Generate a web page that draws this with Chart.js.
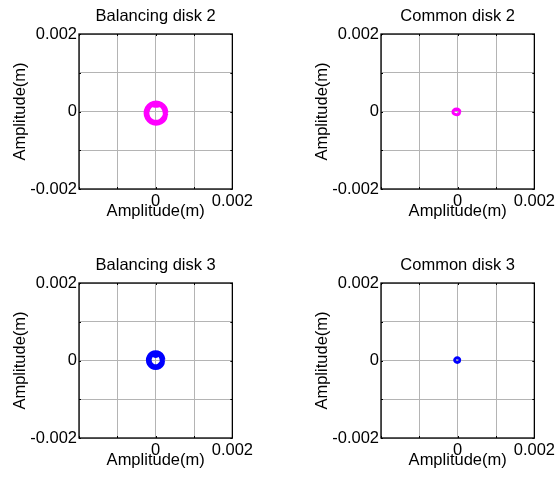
<!DOCTYPE html>
<html>
<head>
<meta charset="utf-8">
<title>Disk orbits</title>
<script src="https://cdn.jsdelivr.net/npm/chart.js@4.4.1/dist/chart.umd.min.js"></script>
<style>
    body { margin: 0; background: #fff; }
    #wrap { position: relative; width: 558px; height: 477px; overflow: hidden; }
    canvas { position: absolute; }
</style>
</head>
<body>
<div id="wrap">
    <canvas id="bal2" width="256" height="230" style="left:0;top:0"></canvas>
    <canvas id="com2" width="256" height="230" style="left:302px;top:0"></canvas>
    <canvas id="bal3" width="256" height="230" style="left:0;top:249px"></canvas>
    <canvas id="com3" width="256" height="230" style="left:302px;top:249px"></canvas>
</div>
<script>
// Axis range and labelled ticks (metres)
const axisMin = -0.002;
const axisMax = 0.002;
const gridStep = 0.001;
const xTickValues = [0, 0.002];
const xTickText = ["0", "0.002"];
const yTickValues = [-0.002, 0, 0.002];
const yTickText = ["-0.002", "0", "0.002"];

// Orbit of balancing disk 2
const bal2X = [0.00027, 0.000235, 0.00014, 0.00001, -0.00012, -0.000215, -0.00025, -0.000215, -0.00012, 0.00001, 0.00014, 0.000235,
               0.00025, 0.000218, 0.00013, 0.00001, -0.00011, -0.000198, -0.00023, -0.000198, -0.00011, 0.00001, 0.00013, 0.000218, 0.00027];
const bal2Y = [-0.00004, 0.00009, 0.000185, 0.00022, 0.000185, 0.00009, -0.00004, -0.00017, -0.000265, -0.0003, -0.000265, -0.00017,
               -0.00004, 0.00008, 0.00017, 0.00016, 0.00017, 0.00008, -0.00004, -0.00016, -0.000248, -0.00028, -0.000248, -0.00016, -0.00004];

// Orbit of common disk 2
const com2X = [0.00007, 0.00004, -0.00003, -0.0001, -0.00013, -0.0001, -0.00003, 0.00004,
               0.00005, 0.000028, -0.00003, -0.000092, -0.000115, -0.000092, -0.00003, 0.000028, 0.00007];
const com2Y = [-0.00001, 0.000045, 0.000068, 0.000045, -0.00001, -0.000065, -0.000088, -0.000065,
               -0.00001, 0.000038, 0.000045, 0.000038, -0.00001, -0.000058, -0.000078, -0.000058, -0.00001];

// Orbit of balancing disk 3
const bal3X = [0.00019, 0.000165, 0.000095, 0, -0.000095, -0.000165, -0.00019, -0.000165, -0.000095, 0, 0.000095, 0.000165,
               0.00017, 0.000147, 0.000085, 0, -0.000085, -0.000147, -0.00017, -0.000147, -0.000085, 0, 0.000085, 0.000147, 0.00019];
const bal3Y = [0.00001, 0.000105, 0.000175, 0.0002, 0.000175, 0.000105, 0.00001, -0.000085, -0.000155, -0.00018, -0.000155, -0.000085,
               0.00001, 0.000095, 0.000157, 0.00013, 0.000157, 0.000095, 0.00001, -0.000075, -0.000137, -0.00016, -0.000137, -0.000075, 0.00001];

// Orbit of common disk 3
const com3X = [0.000065, 0.000043, -0.00001, -0.000063, -0.000085, -0.000063, -0.00001, 0.000043,
               0.000055, 0.000035, -0.00001, -0.000055, -0.000075, -0.000055, -0.00001, 0.000035, 0.000065];
const com3Y = [0.00001, 0.000056, 0.000075, 0.000056, 0.00001, -0.000036, -0.000055, -0.000036,
               0.00001, 0.000048, 0.000065, 0.000048, 0.00001, -0.000028, -0.000045, -0.000028, 0.00001];

const FONT = { family: "'Liberation Sans', Arial, sans-serif", size: 16.5 };

function tickLabel(values, text) {
    return (v) => {
        const i = values.findIndex((t) => Math.abs(t - v) < 1e-9);
        return i < 0 ? "" : text[i];
    };
}

// Black frame round the plot area with short inward ticks
const framePlugin = {
    id: "frame",
    afterDraw(chart) {
        const { ctx, chartArea: a, scales } = chart;
        ctx.save();
        ctx.strokeStyle = "#000";
        ctx.lineWidth = 1.3;
        ctx.strokeRect(a.left, a.top, a.right - a.left, a.bottom - a.top);
        ctx.lineWidth = 1;
        ctx.beginPath();
        scales.x.ticks.forEach((t) => {
            const px = Math.round(scales.x.getPixelForValue(t.value)) + 0.5;
            ctx.moveTo(px, a.bottom); ctx.lineTo(px, a.bottom - 2);
            ctx.moveTo(px, a.top); ctx.lineTo(px, a.top + 2);
        });
        scales.y.ticks.forEach((t) => {
            const py = Math.round(scales.y.getPixelForValue(t.value)) + 0.5;
            ctx.moveTo(a.left, py); ctx.lineTo(a.left + 2, py);
            ctx.moveTo(a.right, py); ctx.lineTo(a.right - 2, py);
        });
        ctx.stroke();
        ctx.restore();
    },
};

function makeOrbit(id, title, xs, ys, color, width) {
    const points = xs.map((x, i) => ({ x: x, y: ys[i] }));
    new Chart(document.getElementById(id), {
        type: "scatter",
        data: {
            datasets: [{
                data: points,
                showLine: true,
                borderColor: color,
                borderWidth: width,
                pointRadius: 0,
                tension: 0.4,
                fill: false,
            }],
        },
        options: {
            responsive: false,
            animation: false,
            devicePixelRatio: 1,
            layout: { padding: { left: 0, right: 22, top: 0, bottom: 0 } },
            plugins: {
                legend: { display: false },
                tooltip: { enabled: false },
                title: {
                    display: true,
                    fullSize: false, // centre over the plot box only
                    text: title,
                    color: "#000",
                    font: { ...FONT, weight: "normal", lineHeight: 1.2 },
                    padding: { top: 7, bottom: 7.2 },
                },
            },
            scales: {
                x: {
                    type: "linear",
                    min: axisMin,
                    max: axisMax,
                    afterFit: (s) => { s.height = 41; },
                    border: { display: false },
                    grid: { color: "#b4b4b4", drawTicks: false },
                    ticks: {
                        stepSize: gridStep,
                        autoSkip: false,
                        maxRotation: 0,
                        padding: 3,
                        color: "#000",
                        font: FONT,
                        callback: tickLabel(xTickValues, xTickText),
                    },
                    title: {
                        display: true,
                        text: "Amplitude(m)",
                        color: "#000",
                        font: FONT,
                        padding: { top: 0, bottom: 9 },
                    },
                },
                y: {
                    type: "linear",
                    min: axisMin,
                    max: axisMax,
                    afterFit: (s) => { s.width = 79; },
                    border: { display: false },
                    grid: { color: "#b4b4b4", drawTicks: false },
                    ticks: {
                        stepSize: gridStep,
                        autoSkip: false,
                        padding: 2,
                        color: "#000",
                        font: FONT,
                        callback: tickLabel(yTickValues, yTickText),
                    },
                    title: {
                        display: true,
                        text: "Amplitude(m)",
                        color: "#000",
                        font: FONT,
                        padding: { top: 11, bottom: 0 },
                    },
                },
            },
        },
        plugins: [framePlugin],
    });
}

makeOrbit("bal2", "Balancing disk 2", bal2X, bal2Y, "#ff00ff", 5);
makeOrbit("com2", "Common disk 2", com2X, com2Y, "#ff00ff", 2.5);
makeOrbit("bal3", "Balancing disk 3", bal3X, bal3Y, "#0000ff", 5);
makeOrbit("com3", "Common disk 3", com3X, com3Y, "#0000ff", 2.5);
</script>
</body>
</html>
